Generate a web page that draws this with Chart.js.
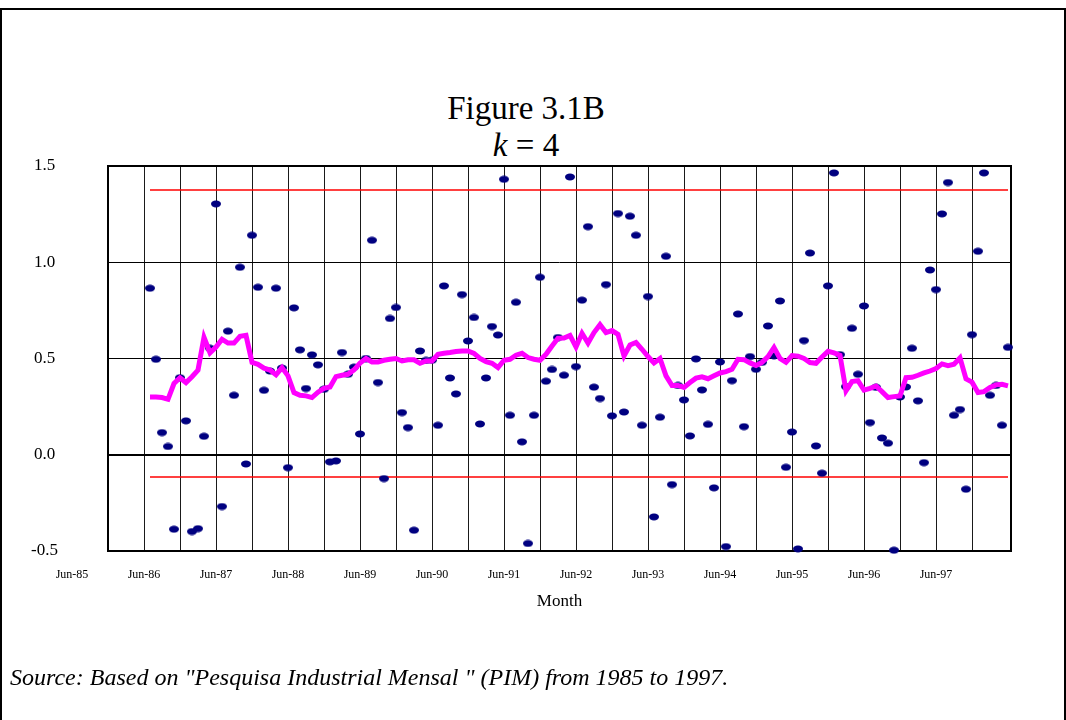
<!DOCTYPE html>
<html>
<head>
<meta charset="utf-8">
<title>Figure 3.1B</title>
<script src="https://cdn.jsdelivr.net/npm/chart.js@4.4.1/dist/chart.umd.min.js"></script>
<style>
  html, body { margin: 0; padding: 0; background: #fff; }
  #page { position: relative; width: 1066px; height: 720px; overflow: hidden; }
  #frame { position: absolute; left: 0; top: 8px; width: 1062px; height: 760px; border: 2px solid #000; }
  #title {
    position: absolute; left: 326px; top: 90px; width: 400px; text-align: center;
    font-family: "Liberation Serif", "Times New Roman", serif; font-size: 33px; line-height: 37px; color: #000;
  }
  #source {
    position: absolute; left: 10px; top: 663px; white-space: nowrap;
    font-family: "Liberation Serif", "Times New Roman", serif; font-style: italic; font-size: 24px; line-height: 28px; color: #000;
  }
  canvas { position: absolute; left: 0; top: 0; }
</style>
</head>
<body>
<div id="page">
  <div id="frame"></div>
  <div id="title">Figure 3.1B<br><i>k</i> = 4</div>
  <canvas id="pimChart" width="1066" height="720"></canvas>
  <div id="source">Source: Based on "Pesquisa Industrial Mensal " (PIM) from 1985 to 1997.</div>
</div>
<script>
  // x axis labels, one per June (Jun-85 sits 12 months before Jun-86)
  const tickLabels = ['Jun-85', 'Jun-86', 'Jun-87', 'Jun-88', 'Jun-89', 'Jun-90', 'Jun-91',
                      'Jun-92', 'Jun-93', 'Jun-94', 'Jun-95', 'Jun-96', 'Jun-97'];
  const yTicks = [-0.5, 0.0, 0.5, 1.0, 1.5];

  // monthly observations (dots), month 1 = Jul-86
  const pimValues = [
    0.865, 0.496, 0.115, 0.043, -0.387, 0.40, 0.176, -0.399, -0.384, 0.096,
    0.553, 1.303, -0.269, 0.642, 0.309, 0.974, -0.048, 1.14, 0.87, 0.335,
    0.435, 0.865, 0.45, -0.067, 0.763, 0.545, 0.344, 0.519, 0.467, 0.34,
    -0.037, -0.032, 0.531, 0.418, 0.455, 0.108, 0.50, 1.114, 0.375, -0.124,
    0.708, 0.765, 0.219, 0.141, -0.392, 0.539, 0.49, 0.491, 0.153, 0.877,
    0.399, 0.316, 0.832, 0.591, 0.713, 0.16, 0.399, 0.666, 0.622, 1.431,
    0.205, 0.792, 0.067, -0.461, 0.205, 0.922, 0.382, 0.443, 0.609, 0.413,
    1.443, 0.458, 0.803, 1.185, 0.351, 0.292, 0.884, 0.202, 1.253, 0.222,
    1.239, 1.14, 0.153, 0.822, -0.323, 0.195, 1.031, -0.155, 0.36, 0.285,
    0.098, 0.498, 0.337, 0.158, -0.172, 0.482, -0.477, 0.385, 0.731, 0.146,
    0.51, 0.444, 0.48, 0.669, 0.513, 0.799, -0.065, 0.118, -0.489, 0.593,
    1.048, 0.046, -0.096, 0.877, 1.464, 0.52, 0.354, 0.657, 0.418, 0.773,
    0.167, 0.35, 0.087, 0.06, -0.496, 0.30, 0.352, 0.553, 0.28, -0.041,
    0.96, 0.858, 1.251, 1.414, 0.205, 0.235, -0.179, 0.624, 1.057, 1.464,
    0.309, 0.36, 0.153, 0.558
  ];

  // smoothed series (magenta line)
  const smoothValues = [
    0.30, 0.30, 0.297, 0.288, 0.37, 0.40, 0.375, 0.405, 0.44, 0.61,
    0.53, 0.56, 0.60, 0.58, 0.58, 0.615, 0.62, 0.48, 0.47, 0.45,
    0.44, 0.415, 0.453, 0.41, 0.323, 0.309, 0.306, 0.297, 0.325, 0.345,
    0.352, 0.406, 0.413, 0.418, 0.441, 0.476, 0.50, 0.482, 0.482, 0.491,
    0.496, 0.50, 0.487, 0.493, 0.493, 0.475, 0.487, 0.487, 0.522, 0.527,
    0.531, 0.536, 0.539, 0.539, 0.527, 0.50, 0.484, 0.475, 0.453, 0.491,
    0.496, 0.517, 0.527, 0.505, 0.496, 0.491, 0.522, 0.565, 0.605, 0.606,
    0.62, 0.56, 0.631, 0.58, 0.635, 0.676, 0.635, 0.645, 0.625, 0.513,
    0.57, 0.583, 0.548, 0.51, 0.477, 0.50, 0.41, 0.36, 0.36, 0.35,
    0.375, 0.398, 0.405, 0.395, 0.41, 0.425, 0.432, 0.444, 0.496, 0.494,
    0.477, 0.464, 0.48, 0.51, 0.557, 0.50, 0.48, 0.515, 0.512, 0.50,
    0.479, 0.475, 0.508, 0.537, 0.529, 0.517, 0.332, 0.38, 0.385, 0.336,
    0.345, 0.357, 0.328, 0.297, 0.302, 0.305, 0.40, 0.402, 0.413, 0.425,
    0.435, 0.448, 0.472, 0.463, 0.47, 0.503, 0.394, 0.377, 0.323, 0.328,
    0.35, 0.363, 0.366, 0.358
  ];

  // control limits (red lines) and the months they span
  const upperLimit = 1.375;
  const lowerLimit = -0.115;
  const limitMonths = [1, 144];

  const months = pimValues.map((v, i) => i + 1);
  const serif = '"Liberation Serif", "Times New Roman", serif';

  // small navy ellipse used as the point marker
  const dot = document.createElement('canvas');
  dot.width = 12;
  dot.height = 8;
  const dctx = dot.getContext('2d');
  dctx.fillStyle = '#000080';
  dctx.beginPath();
  dctx.ellipse(6, 4, 5, 3.4, 0, 0, Math.PI * 2);
  dctx.fill();

  // thick frame round the plot area
  const plotFrame = {
    id: 'plotFrame',
    beforeDatasetsDraw(chart) {
      const { ctx, chartArea: a } = chart;
      ctx.save();
      ctx.strokeStyle = '#000';
      ctx.lineWidth = 2;
      ctx.strokeRect(a.left, a.top, a.right - a.left, a.bottom - a.top);
      ctx.restore();
    }
  };

  const ctx = document.getElementById('pimChart').getContext('2d');
  const pimChart = new Chart(ctx, {
    type: 'scatter',
    data: {
      datasets: [
        {
          label: 'PIM',
          data: months.map((m, i) => ({ x: m, y: pimValues[i] })),
          pointStyle: dot,
          pointRadius: 5,
          clip: false,
          order: 1
        },
        {
          label: 'k = 4',
          data: months.map((m, i) => ({ x: m, y: smoothValues[i] })),
          showLine: true,
          borderColor: '#ff00ff',
          borderWidth: 5,
          pointRadius: 0,
          tension: 0,
          order: 0
        },
        {
          label: 'Upper limit',
          data: limitMonths.map(m => ({ x: m, y: upperLimit })),
          showLine: true,
          borderColor: '#ff0000',
          borderWidth: 1.5,
          pointRadius: 0,
          order: 2
        },
        {
          label: 'Lower limit',
          data: limitMonths.map(m => ({ x: m, y: lowerLimit })),
          showLine: true,
          borderColor: '#ff0000',
          borderWidth: 1.5,
          pointRadius: 0,
          order: 2
        }
      ]
    },
    options: {
      responsive: false,
      animation: false,
      layout: { padding: { left: 0, right: 55, top: 166, bottom: 0 } },
      plugins: {
        legend: { display: false },
        tooltip: { enabled: false }
      },
      scales: {
        x: {
          type: 'linear',
          min: -6,
          max: 144.5,
          afterFit: (scale) => { scale.height = 169; },
          afterBuildTicks: (scale) => {
            const ticks = [];
            for (let m = -12; m <= 144; m += 6) ticks.push({ value: m });
            scale.ticks = ticks;
          },
          ticks: {
            autoSkip: false,
            maxRotation: 0,
            minRotation: 0,
            padding: 17,
            color: '#000',
            font: { family: serif, size: 12 },
            callback: (value) => (value % 12 === 0 && value <= 132) ? tickLabels[value / 12 + 1] : ''
          },
          grid: {
            drawTicks: false,
            lineWidth: 1,
            color: (c) => (c.tick && (c.tick.value < -6 || c.tick.value > 140)) ? 'rgba(0,0,0,0)' : '#1a1a1a'
          },
          border: { display: false },
          title: {
            display: true,
            text: 'Month',
            color: '#000',
            font: { family: serif, size: 17 },
            padding: { top: 0, bottom: 108 }
          }
        },
        y: {
          min: yTicks[0],
          max: yTicks[yTicks.length - 1],
          afterFit: (scale) => { scale.width = 108; },
          afterBuildTicks: (scale) => { scale.ticks = yTicks.map(v => ({ value: v })); },
          ticks: {
            padding: 50,
            crossAlign: 'center',
            color: '#000',
            font: { family: serif, size: 17 },
            callback: (value) => value.toFixed(1)
          },
          grid: {
            drawTicks: false,
            color: '#000',
            lineWidth: (c) => (c.tick && c.tick.value === 0) ? 2 : 1
          },
          border: { display: false }
        }
      }
    },
    plugins: [plotFrame]
  });
</script>
</body>
</html>
